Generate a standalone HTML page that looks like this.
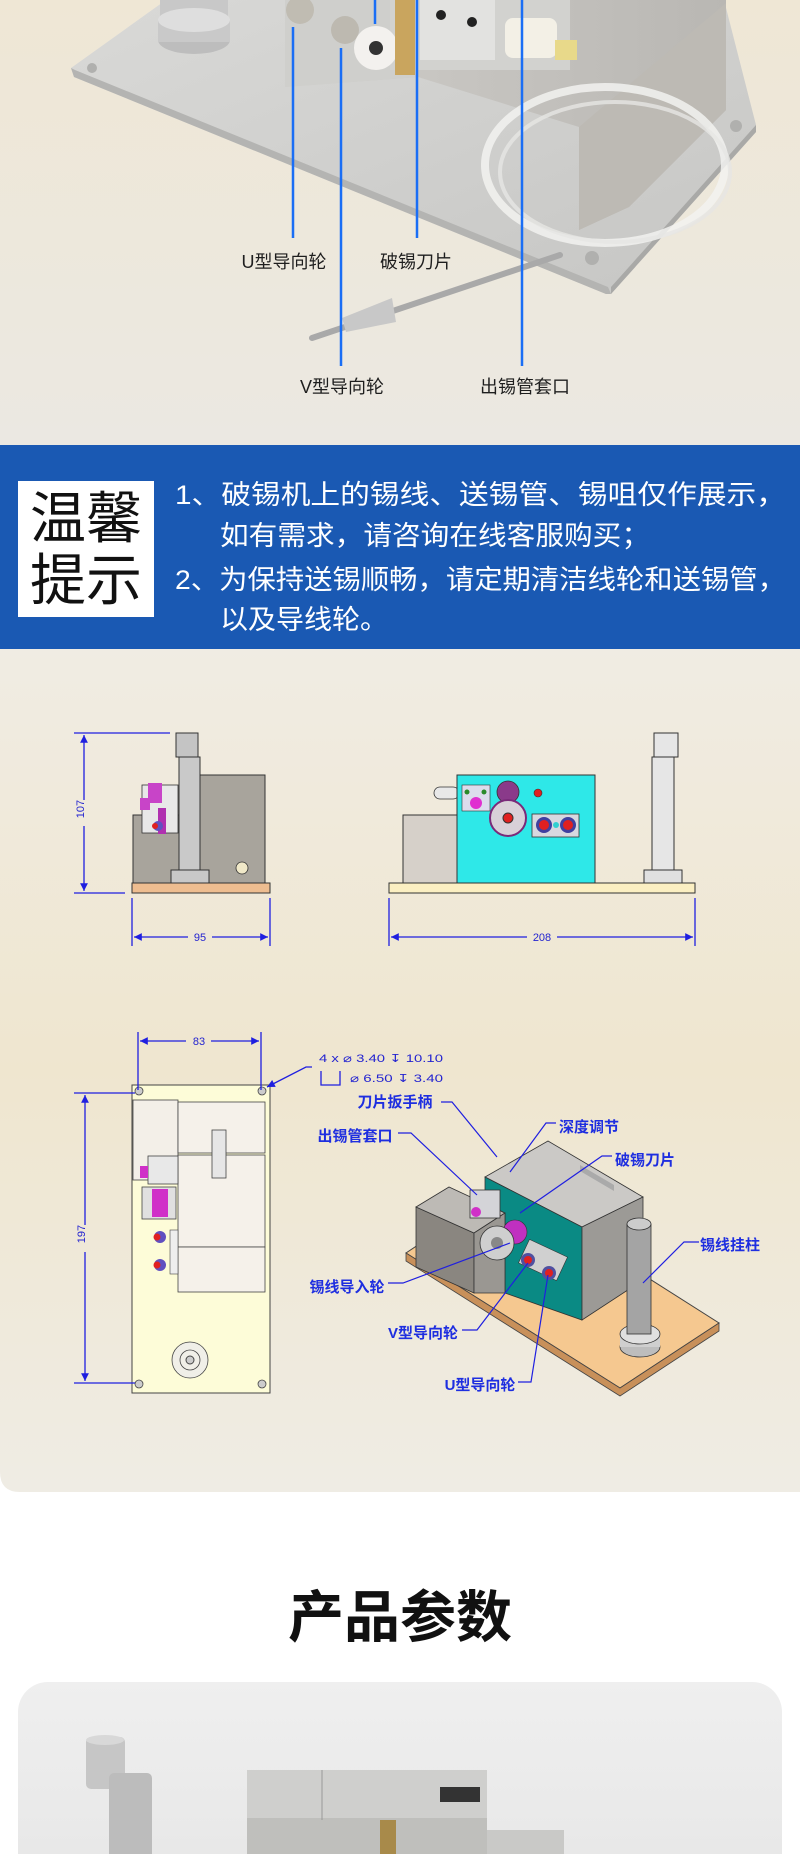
<!DOCTYPE html>
<html><head><meta charset="utf-8"><style>
html,body{margin:0;padding:0;background:#fff}
body{width:800px;height:1854px;overflow:hidden;position:relative}
svg{display:block}
.t{font-family:"Liberation Sans","Noto Sans CJK SC",sans-serif}
</style></head><body>
<svg width="800" height="1854" viewBox="0 0 800 1854" xmlns="http://www.w3.org/2000/svg" class="t">
<defs>
<linearGradient id="bg1" x1="0" y1="0" x2="0" y2="1"><stop offset="0" stop-color="#efe7d5"/><stop offset="1" stop-color="#ebe8e2"/></linearGradient>
<linearGradient id="bg2" x1="0" y1="0" x2="0" y2="1"><stop offset="0" stop-color="#f0ece3"/><stop offset="0.5" stop-color="#efe6cf"/><stop offset="1" stop-color="#efece4"/></linearGradient>
<linearGradient id="plate" x1="0" y1="0" x2="1" y2="1"><stop offset="0" stop-color="#d9d9d7"/><stop offset="1" stop-color="#c6c6c4"/></linearGradient>
<linearGradient id="boxg" x1="0" y1="0" x2="1" y2="0"><stop offset="0" stop-color="#cfcdc9"/><stop offset="1" stop-color="#b9b7b3"/></linearGradient>
<linearGradient id="card" x1="0" y1="0" x2="0" y2="1"><stop offset="0" stop-color="#efefef"/><stop offset="1" stop-color="#e6e6e6"/></linearGradient>
<marker id="ar" viewBox="0 0 10 10" refX="10" refY="5" markerWidth="8" markerHeight="6" orient="auto-start-reverse"><path d="M0,0L10,5L0,10z" fill="#1f1fe0"/></marker>
</defs>

<!-- TOP PHOTO -->
<rect x="0" y="0" width="800" height="446" fill="url(#bg1)"/>
<polygon points="166,0 724,0 756,125 756,132 611,294 606,294 74,77 71,68" fill="url(#plate)"/>
<polygon points="71,68 74,77 606,294 611,294 608,287 75,70" fill="#b4b4b2"/>
<polygon points="611,287 756,125 756,132 611,294" fill="#a9a9a7"/>
<circle cx="92" cy="68" r="5" fill="#b0b0ae"/><circle cx="736" cy="126" r="6" fill="#b0b0ae"/><circle cx="592" cy="258" r="7" fill="#b0b0ae"/>
<polygon points="285,0 726,0 726,110 629,207 579,230 579,127 418,77 285,87" fill="url(#boxg)"/>
<polygon points="579,127 726,3 726,110 629,207 579,230" fill="#bdbab4"/>
<polygon points="285,0 418,0 418,77 285,87" fill="#cfcfcc"/>
<rect x="160" y="0" width="68" height="20" fill="#c8c8c8"/>
<ellipse cx="194" cy="40" rx="36" ry="14" fill="#bdbdbd"/>
<rect x="158" y="20" width="72" height="22" fill="#c9c9c9"/>
<ellipse cx="194" cy="20" rx="36" ry="12" fill="#dedede"/>
<!-- mechanism -->
<rect x="390" y="0" width="180" height="70" fill="#d2d2cf"/>
<circle cx="300" cy="10" r="14" fill="#c0bcb2"/><circle cx="345" cy="30" r="14" fill="#bdb9b0"/>
<circle cx="376" cy="48" r="22" fill="#f3f1ee"/><circle cx="376" cy="48" r="7" fill="#333"/>
<rect x="395" y="0" width="20" height="75" fill="#c9a55e"/>
<rect x="420" y="0" width="75" height="60" fill="#e2e2e0"/>
<circle cx="441" cy="15" r="5" fill="#222"/><circle cx="472" cy="22" r="5" fill="#222"/>
<rect x="505" y="18" width="52" height="40" rx="8" fill="#f3f0e6"/>
<rect x="555" y="40" width="22" height="20" fill="#e8d98a"/>
<!-- tube loop -->
<ellipse cx="605" cy="165" rx="120" ry="78" fill="none" stroke="#f2f2f0" stroke-width="8" opacity="0.85"/>
<ellipse cx="615" cy="172" rx="115" ry="70" fill="none" stroke="#e6e6e4" stroke-width="4" opacity="0.8"/>
<!-- probe -->
<line x1="312" y1="338" x2="560" y2="255" stroke="#a9a9a9" stroke-width="6" stroke-linecap="round"/>
<polygon points="342,318 392,298 396,322 346,332" fill="#c8c8c8"/>
<!-- blue leader lines -->
<g stroke="#1a6ef5" stroke-width="2.5">
<line x1="293" y1="27" x2="293" y2="238"/><line x1="341" y1="48" x2="341" y2="366"/>
<line x1="417" y1="0" x2="417" y2="238"/><line x1="522" y1="0" x2="522" y2="366"/>
<line x1="375" y1="0" x2="375" y2="24"/>
</g>
<g font-size="18" fill="#1e1e1e" text-anchor="middle">
<text x="284" y="268">U型导向轮</text><text x="416" y="268">破锡刀片</text>
<text x="342" y="393">V型导向轮</text><text x="525" y="393">出锡管套口</text>
</g>

<!-- BLUE BAND -->
<rect x="0" y="445" width="800" height="204" fill="#1a59b3"/>
<rect x="18" y="481" width="136" height="136" fill="#fff"/>
<g font-size="56" fill="#111" text-anchor="middle"><text x="86" y="538">温馨</text><text x="86" y="600">提示</text></g>
<g font-size="27" fill="#fff">
<text x="175" y="504" textLength="611" lengthAdjust="spacingAndGlyphs">1、破锡机上的锡线、送锡管、锡咀仅作展示，</text>
<text x="220" y="545" textLength="430" lengthAdjust="spacingAndGlyphs">如有需求，请咨询在线客服购买；</text>
<text x="175" y="589" textLength="611" lengthAdjust="spacingAndGlyphs">2、为保持送锡顺畅，请定期清洁线轮和送锡管，</text>
<text x="220" y="629" textLength="168" lengthAdjust="spacingAndGlyphs">以及导线轮。</text>
</g>

<!-- SECTION 2 -->
<path d="M0,649H800V1492H20Q0,1492 0,1472Z" fill="url(#bg2)"/>

<!-- side view -->
<rect x="133" y="815" width="46" height="68" fill="#a8a49c" stroke="#333" stroke-width="1"/>
<rect x="200" y="775" width="65" height="108" fill="#a8a49c" stroke="#333" stroke-width="1"/>
<rect x="179" y="757" width="21" height="113" fill="#c9c9c9" stroke="#333" stroke-width="1"/>
<rect x="176" y="733" width="22" height="24" fill="#c4c4c4" stroke="#333" stroke-width="1"/>
<rect x="171" y="870" width="38" height="13" fill="#c8c8c8" stroke="#333" stroke-width="1"/>
<rect x="142" y="785" width="36" height="48" fill="#e8e8e8" stroke="#333" stroke-width="0.8"/>
<rect x="148" y="783" width="14" height="20" fill="#c844c8"/><rect x="140" y="798" width="10" height="12" fill="#c844c8"/>
<rect x="158" y="808" width="8" height="26" fill="#b030b0"/><circle cx="158" cy="826" r="5" fill="#6050c0"/><circle cx="155" cy="826" r="3" fill="#e02020"/>
<circle cx="242" cy="868" r="6" fill="#f0e8c8" stroke="#333" stroke-width="0.8"/>
<rect x="132" y="883" width="138" height="10" fill="#eebd90" stroke="#333" stroke-width="1"/>
<!-- front view -->
<rect x="403" y="815" width="81" height="68" fill="#d6d0c9" stroke="#333" stroke-width="1"/>
<rect x="434" y="787" width="25" height="12" rx="6" fill="#e8e8e8" stroke="#333" stroke-width="0.8"/>
<rect x="457" y="775" width="138" height="108" fill="#2ee8e8" stroke="#333" stroke-width="1"/>
<rect x="462" y="785" width="28" height="26" fill="#dcdcec" stroke="#333" stroke-width="0.6"/>
<circle cx="476" cy="803" r="6" fill="#e030d0"/><circle cx="467" cy="792" r="2.5" fill="#2a8a2a"/><circle cx="484" cy="792" r="2.5" fill="#2a8a2a"/>
<circle cx="508" cy="792" r="11" fill="#8a3a8a" stroke="#333" stroke-width="0.8"/>
<circle cx="508" cy="818" r="18" fill="#d8d0d8" stroke="#7a2a7a" stroke-width="2"/><circle cx="508" cy="818" r="5" fill="#e02020" stroke="#333"/>
<circle cx="538" cy="793" r="4" fill="#e02020" stroke="#333" stroke-width="0.6"/>
<rect x="532" y="814" width="47" height="23" fill="#d8d8e0" stroke="#333" stroke-width="0.8"/>
<circle cx="544" cy="825" r="8" fill="#4040a0"/><circle cx="544" cy="825" r="5" fill="#e02020"/>
<circle cx="568" cy="825" r="8" fill="#4040a0"/><circle cx="568" cy="825" r="5" fill="#e02020"/><circle cx="556" cy="825" r="3" fill="#30d0d0"/>
<rect x="652" y="757" width="22" height="113" fill="#e6e6e6" stroke="#333" stroke-width="1"/>
<rect x="654" y="733" width="24" height="24" fill="#e6e6e6" stroke="#333" stroke-width="1"/>
<rect x="644" y="870" width="38" height="13" fill="#e0e0e0" stroke="#333" stroke-width="1"/>
<rect x="389" y="883" width="306" height="10" fill="#fbefc2" stroke="#333" stroke-width="1"/>
<!-- dims side/front -->
<g stroke="#1f1fe0" stroke-width="1.3" fill="none">
<line x1="74" y1="733" x2="170" y2="733"/><line x1="74" y1="893" x2="125" y2="893"/>
<line x1="84" y1="735" x2="84" y2="800" marker-start="url(#ar)"/><line x1="84" y1="826" x2="84" y2="891" marker-end="url(#ar)"/>
<line x1="132" y1="898" x2="132" y2="946"/><line x1="270" y1="898" x2="270" y2="946"/>
<line x1="134" y1="937" x2="188" y2="937" marker-start="url(#ar)"/><line x1="212" y1="937" x2="268" y2="937" marker-end="url(#ar)"/>
<line x1="389" y1="898" x2="389" y2="946"/><line x1="695" y1="898" x2="695" y2="946"/>
<line x1="391" y1="937" x2="527" y2="937" marker-start="url(#ar)"/><line x1="557" y1="937" x2="693" y2="937" marker-end="url(#ar)"/>
</g>
<g font-size="11" fill="#2424d0" text-anchor="middle">
<text x="88" y="813" transform="rotate(-90 84 813)">107</text>
<text x="200" y="941">95</text><text x="542" y="941">208</text>
</g>

<!-- top view -->
<rect x="132" y="1085" width="138" height="308" fill="#fdfcd8" stroke="#444" stroke-width="1"/>
<rect x="133" y="1100" width="45" height="80" fill="#f3efe8" stroke="#444" stroke-width="0.8"/>
<rect x="178" y="1102" width="87" height="51" fill="#f5f1ea" stroke="#444" stroke-width="0.8"/>
<rect x="178" y="1155" width="87" height="92" fill="#f5f1ea" stroke="#444" stroke-width="0.8"/>
<rect x="178" y="1247" width="87" height="45" fill="#f5f1ea" stroke="#444" stroke-width="0.8"/>
<rect x="212" y="1130" width="14" height="48" fill="#e6e6e6" stroke="#444" stroke-width="0.8"/>
<rect x="148" y="1156" width="30" height="28" fill="#e8e8e8" stroke="#444" stroke-width="0.8"/>
<rect x="140" y="1166" width="8" height="12" fill="#d030c8"/>
<rect x="142" y="1187" width="34" height="32" fill="#e0e0e0" stroke="#444" stroke-width="0.8"/>
<rect x="152" y="1189" width="16" height="28" fill="#d030c8"/>
<circle cx="160" cy="1237" r="6" fill="#6050c0"/><circle cx="157" cy="1237" r="3.5" fill="#e02020"/>
<circle cx="160" cy="1265" r="6" fill="#6050c0"/><circle cx="157" cy="1265" r="3.5" fill="#e02020"/>
<rect x="170" y="1230" width="8" height="44" fill="#eee" stroke="#444" stroke-width="0.6"/>
<circle cx="190" cy="1360" r="18" fill="#f0efe8" stroke="#444" stroke-width="0.8"/><circle cx="190" cy="1360" r="10" fill="none" stroke="#444" stroke-width="0.8"/><circle cx="190" cy="1360" r="4" fill="#ccc" stroke="#444"/>
<g fill="#ccc" stroke="#444" stroke-width="0.8"><circle cx="139" cy="1091" r="4"/><circle cx="262" cy="1091" r="4"/><circle cx="139" cy="1384" r="4"/><circle cx="262" cy="1384" r="4"/></g>
<g stroke="#1f1fe0" stroke-width="1.3" fill="none">
<line x1="138" y1="1032" x2="138" y2="1090"/><line x1="261" y1="1032" x2="261" y2="1090"/>
<line x1="140" y1="1041" x2="186" y2="1041" marker-start="url(#ar)"/><line x1="211" y1="1041" x2="259" y2="1041" marker-end="url(#ar)"/>
<line x1="74" y1="1093" x2="135" y2="1093"/><line x1="74" y1="1383" x2="135" y2="1383"/>
<line x1="85" y1="1095" x2="85" y2="1225" marker-start="url(#ar)"/><line x1="85" y1="1252" x2="85" y2="1381" marker-end="url(#ar)"/>
<polyline points="312,1067 306,1067 267,1087" marker-end="url(#ar)"/>
<polyline points="321,1071 321,1085 340,1085 340,1071"/>
</g>
<g font-size="11" fill="#2424d0">
<text x="199" y="1045" text-anchor="middle">83</text>
<text x="89" y="1238" text-anchor="middle" transform="rotate(-90 85 1238)">197</text>
<text x="319" y="1062" textLength="124" lengthAdjust="spacingAndGlyphs">4 x ⌀ 3.40 ↧ 10.10</text>
<text x="350" y="1082" textLength="93" lengthAdjust="spacingAndGlyphs">⌀ 6.50 ↧ 3.40</text>
</g>

<!-- iso view -->
<polygon points="406,1253 620,1388 719,1323 505,1187" fill="#f5c890" stroke="#444" stroke-width="1"/>
<polygon points="406,1253 620,1388 719,1323 719,1331 620,1396 406,1261" fill="#c8905a" stroke="#444" stroke-width="0.8"/>
<polygon points="416,1207 474,1233 474,1293 416,1267" fill="#8a8680" stroke="#333" stroke-width="0.8"/>
<polygon points="416,1207 449,1187 505,1213 474,1233" fill="#bdbab5" stroke="#333" stroke-width="0.8"/>
<polygon points="485,1177 548,1141 643,1197 582,1227" fill="#cbc9c6" stroke="#333" stroke-width="0.8"/>
<polygon points="485,1177 582,1227 582,1320 505,1293 505,1213 485,1203" fill="#0a8a84" stroke="#333" stroke-width="0.8"/>
<polygon points="474,1233 505,1213 505,1293 474,1293" fill="#9a9792" stroke="#333" stroke-width="0.8"/>
<polygon points="582,1227 643,1197 643,1280 582,1320" fill="#9c9a96" stroke="#333" stroke-width="0.8"/>
<polygon points="580,1165 614,1185 614,1191 580,1171" fill="#aaa"/>
<rect x="470" y="1190" width="30" height="28" fill="#d4d4d8" stroke="#333" stroke-width="0.8"/>
<circle cx="476" cy="1212" r="5" fill="#d030c8"/>
<circle cx="515" cy="1232" r="12" fill="#c030c0" stroke="#333" stroke-width="0.6"/>
<circle cx="497" cy="1243" r="17" fill="#cfcfcf" stroke="#333" stroke-width="0.8"/><circle cx="497" cy="1243" r="6" fill="#888"/>
<rect x="522" y="1247" width="42" height="26" fill="#d0d0d0" stroke="#333" stroke-width="0.6" transform="rotate(25 543 1260)"/>
<circle cx="528" cy="1260" r="7" fill="#5050a0"/><circle cx="528" cy="1260" r="4" fill="#e02020"/>
<circle cx="549" cy="1273" r="7" fill="#5050a0"/><circle cx="549" cy="1273" r="4" fill="#e02020"/>
<ellipse cx="640" cy="1347" rx="20" ry="10" fill="#bdbdbd" stroke="#333" stroke-width="0.8"/>
<rect x="620" y="1334" width="40" height="13" fill="#cfcfcf"/>
<ellipse cx="640" cy="1334" rx="20" ry="10" fill="#e0e0e0" stroke="#333" stroke-width="0.8"/>
<rect x="627" y="1224" width="24" height="110" fill="#a4a4a4" stroke="#333" stroke-width="0.8"/>
<ellipse cx="639" cy="1224" rx="12" ry="6" fill="#ccc" stroke="#333" stroke-width="0.8"/>
<g stroke="#1f1fe0" stroke-width="1.2" fill="none">
<polyline points="441,1102 452,1102 497,1157"/>
<polyline points="556,1123 546,1123 510,1172"/>
<polyline points="612,1156 602,1156 520,1213"/>
<polyline points="398,1133 411,1133 477,1195"/>
<polyline points="699,1242 684,1242 643,1283"/>
<polyline points="388,1283 403,1283 510,1243"/>
<polyline points="462,1330 477,1330 528,1263"/>
<polyline points="518,1382 531,1382 548,1275"/>
</g>
<g font-size="15" fill="#1e2ee0" text-anchor="middle" font-weight="bold">
<text x="395" y="1107">刀片扳手柄</text><text x="589" y="1132">深度调节</text>
<text x="645" y="1165">破锡刀片</text><text x="355" y="1141">出锡管套口</text>
<text x="730" y="1250">锡线挂柱</text><text x="347" y="1292">锡线导入轮</text>
<text x="423" y="1338">V型导向轮</text><text x="480" y="1390">U型导向轮</text>
</g>

<!-- TITLE -->
<text x="400" y="1637" font-size="56" font-weight="bold" fill="#111" text-anchor="middle">产品参数</text>

<!-- CARD -->
<rect x="18" y="1682" width="764" height="220" rx="30" fill="url(#card)"/>
<rect x="86" y="1737" width="39" height="52" rx="5" fill="#c6c6c6"/>
<ellipse cx="105" cy="1740" rx="19" ry="5" fill="#d8d8d8"/>
<rect x="109" y="1773" width="43" height="90" rx="5" fill="#bcbcbc"/>
<rect x="247" y="1770" width="240" height="62" fill="#cfcfcd"/>
<rect x="247" y="1818" width="240" height="40" fill="#bfbfbc"/>
<line x1="322" y1="1770" x2="322" y2="1820" stroke="#999"/>
<rect x="440" y="1787" width="40" height="15" fill="#333"/>
<rect x="380" y="1820" width="16" height="40" fill="#a88a4a"/>
<rect x="487" y="1830" width="77" height="30" fill="#c9c9c7"/>
</svg>
</body></html>
